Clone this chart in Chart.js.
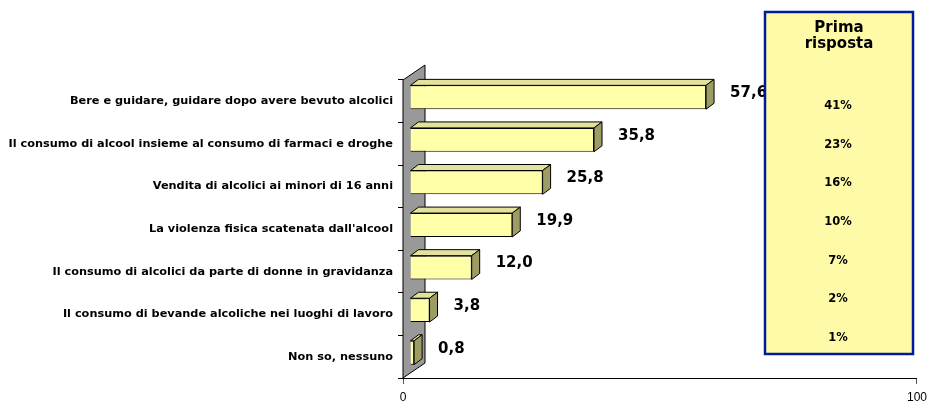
<!DOCTYPE html>
<html>
<head>
<meta charset="utf-8">
<script src="https://cdn.jsdelivr.net/npm/chart.js@4"></script>
<style>
html,body{margin:0;padding:0;background:#fff;}
canvas{display:block;}
</style>
</head>
<body>
<canvas id="c" width="933" height="405"></canvas>
<script>
const categories = [
  "Bere e guidare, guidare dopo avere bevuto alcolici",
  "Il consumo di alcool insieme al consumo di farmaci e droghe",
  "Vendita di alcolici ai minori di 16 anni",
  "La violenza fisica scatenata dall'alcool",
  "Il consumo di alcolici da parte di donne in gravidanza",
  "Il consumo di bevande alcoliche nei luoghi di lavoro",
  "Non so, nessuno"
];
const values = [57.6, 35.8, 25.8, 19.9, 12.0, 3.8, 0.8];
const boxTitle = ["Prima", "risposta"];
const firstAnswer = ["41%", "23%", "16%", "10%", "7%", "2%", "1%"];
const xTicks = [0, 100];

const FONT = "'DejaVu Sans', sans-serif";
const FRONT = '#FFFFA8', TOP = '#E2E29C', SIDE = '#9C9C64', WALL = '#999999';
const SHIFT = {x: 7, y: -4};      // bar placement inside the 3D depth
const DEPTH = {x: 8, y: -6};      // bar depth
const WALLD = {x: 22, y: -15};    // wall depth

const threeD = {
  id: 'threeD',
  beforeDatasetsDraw(chart) {
    const ctx = chart.ctx, a = chart.chartArea;
    ctx.save();
    ctx.beginPath();
    ctx.moveTo(a.left, a.top);
    ctx.lineTo(a.left + WALLD.x, a.top + WALLD.y);
    ctx.lineTo(a.left + WALLD.x, a.bottom + WALLD.y);
    ctx.lineTo(a.left, a.bottom);
    ctx.closePath();
    ctx.fillStyle = WALL; ctx.fill();
    ctx.strokeStyle = '#000'; ctx.lineWidth = 1; ctx.stroke();
    ctx.beginPath();
    ctx.moveTo(a.left, a.bottom + 0.5);
    ctx.lineTo(a.right, a.bottom + 0.5);
    ctx.stroke();
    ctx.restore();

    ctx.save();
    ctx.translate(SHIFT.x, SHIFT.y);
    const meta = chart.getDatasetMeta(0);
    meta.data.forEach(bar => {
      const p = bar.getProps(['x', 'y', 'base', 'height'], true);
      const l = Math.min(p.base, p.x), r = Math.max(p.base, p.x);
      const t = p.y - p.height / 2, b = p.y + p.height / 2;
      ctx.lineWidth = 1; ctx.strokeStyle = '#000';
      ctx.beginPath();
      ctx.moveTo(l, t); ctx.lineTo(l + DEPTH.x, t + DEPTH.y);
      ctx.lineTo(r + DEPTH.x, t + DEPTH.y); ctx.lineTo(r, t); ctx.closePath();
      ctx.fillStyle = TOP; ctx.fill(); ctx.stroke();
      ctx.beginPath();
      ctx.moveTo(r, t); ctx.lineTo(r + DEPTH.x, t + DEPTH.y);
      ctx.lineTo(r + DEPTH.x, b + DEPTH.y); ctx.lineTo(r, b); ctx.closePath();
      ctx.fillStyle = SIDE; ctx.fill(); ctx.stroke();
    });
  },
  afterDatasetsDraw(chart) {
    const ctx = chart.ctx;
    ctx.restore();
    const meta = chart.getDatasetMeta(0);
    ctx.save();
    ctx.font = "bold 15px " + FONT;
    ctx.fillStyle = '#000';
    ctx.textAlign = 'left'; ctx.textBaseline = 'middle';
    meta.data.forEach((bar, i) => {
      const txt = values[i].toFixed(1).replace('.', ',');
      ctx.fillText(txt, bar.x + SHIFT.x + 24, bar.y - 8);
    });
    ctx.restore();
  },
  afterDraw(chart) {
    const ctx = chart.ctx;
    const bx = 765, by = 12, bw = 148, bh = 342;
    ctx.save();
    ctx.fillStyle = '#FFFAA8';
    ctx.fillRect(bx, by, bw, bh);
    ctx.strokeStyle = '#001A99'; ctx.lineWidth = 2.5;
    ctx.strokeRect(bx, by, bw, bh);
    ctx.fillStyle = '#000';
    ctx.textAlign = 'center'; ctx.textBaseline = 'middle';
    ctx.font = "bold 15px " + FONT;
    boxTitle.forEach((t, i) => ctx.fillText(t, bx + bw / 2, 28 + i * 16));
    ctx.font = "bold 11.5px " + FONT;
    firstAnswer.forEach((t, i) => ctx.fillText(t, bx + bw / 2 - 1, 106 + i * 38.7));
    ctx.restore();
  }
};

new Chart(document.getElementById('c'), {
  type: 'bar',
  data: {
    labels: categories,
    datasets: [{
      data: values,
      backgroundColor: FRONT,
      borderColor: '#000',
      borderWidth: 1,
      barPercentage: 0.56,
      categoryPercentage: 1,
      clip: false
    }]
  },
  options: {
    indexAxis: 'y',
    responsive: false,
    animation: false,
    layout: {padding: {top: 80, right: 16, left: 0, bottom: 0}},
    plugins: {legend: {display: false}, tooltip: {enabled: false}},
    scales: {
      y: {
        grid: {drawOnChartArea: false, tickLength: 5, color: '#000', offset: true},
        border: {display: false},
        ticks: {font: {family: FONT, size: 11.3, weight: 'bold'}, color: '#000', padding: 5},
        afterFit(s) { s.width = 403; }
      },
      x: {
        min: 0, max: 100,
        afterBuildTicks(s) { s.ticks = xTicks.map(v => ({value: v})); },
        grid: {drawOnChartArea: false, tickLength: 6, color: '#555'},
        border: {display: true, color: '#000'},
        ticks: {font: {family: "'Liberation Sans', Arial, sans-serif", size: 12}, color: '#000', padding: 6, maxRotation: 0},
        afterFit(s) { s.height = 27; }
      }
    }
  },
  plugins: [threeD]
});
</script>
</body>
</html>
